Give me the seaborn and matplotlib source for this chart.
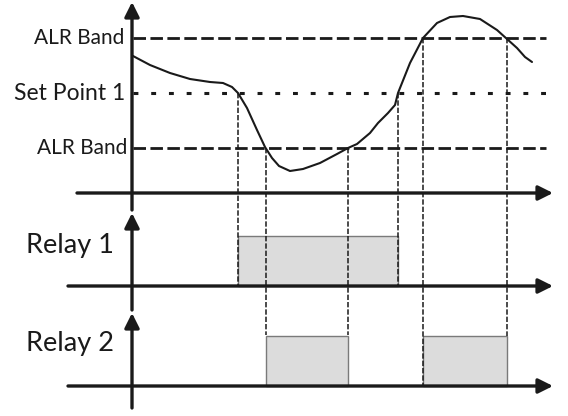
import numpy as np
import pandas as pd
import seaborn as sns
import matplotlib.pyplot as plt

# process value (x = time, y = level; screen units, y grows downward)
curve_t = [133, 150, 170, 190, 210, 223, 232, 238, 247, 257, 265, 272, 279, 290, 303, 320, 337, 348,
           357, 370, 378, 388, 395, 398, 402, 410, 423, 437, 450, 463, 480, 497, 507, 517, 525, 532]
curve_v = [56, 65, 73, 79, 82, 83, 87, 93, 108, 130, 147, 158, 166, 171, 169, 163, 154, 148,
           144, 133, 123, 113, 105, 93, 83, 63, 38, 23, 17, 16, 19, 30, 39, 48, 57, 62]

# thresholds
level_names = ["ALR Band", "Set Point 1", "ALR Band"]
level_values = [38, 93, 148]

# switching instants and the level they come from
switch_t = [238, 266, 348, 398, 423, 507]
switch_from = [93, 148, 148, 93, 38, 38]
switch_to = [286, 335, 335, 286, 386, 336]

# relay on-intervals
relay1_on = [(238, 398)]
relay2_on = [(266, 348), (423, 507)]

# axis rows
row_names = ["Relay 1", "Relay 2"]
base_main, base_r1, base_r2 = 193, 286, 386
top_r1, top_r2 = 236, 336
t_axis = 132

sns.set_theme(style="white")
plt.rcParams["font.family"] = ["Lato", "DejaVu Sans"]

fig = plt.figure(figsize=(5.68, 4.16), dpi=100)
ax = fig.add_axes([0, 0, 1, 1])

ink = "#1a1a1a"

# relay bars
for a, b in relay1_on:
    ax.bar(a, top_r1 - base_r1, width=b - a, bottom=base_r1, align="edge",
           color="#dcdcdc", edgecolor="#7a7a7a", linewidth=1, zorder=1)
for a, b in relay2_on:
    ax.bar(a, top_r2 - base_r2, width=b - a, bottom=base_r2, align="edge",
           color="#dcdcdc", edgecolor="#7a7a7a", linewidth=1, zorder=1)

# threshold lines
for name, v in zip(level_names, level_values):
    if name.startswith("Set"):
        ax.plot([133, 547], [v, v], color=ink, lw=2.2, dashes=(1.6, 4.2), zorder=2)
    else:
        ax.plot([133, 546], [v, v], color=ink, lw=2.0, dashes=(4.5, 1.6), zorder=2)

# projection lines
for t, a, b in zip(switch_t, switch_from, switch_to):
    ax.plot([t, t], [a, b], color=ink, lw=1.1, dashes=(3.5, 1.3), zorder=3)

# process curve
df = pd.DataFrame({"t": curve_t, "v": curve_v})
sns.lineplot(data=df, x="t", y="v", sort=False, color=ink, lw=1.5, ax=ax, zorder=4,
             solid_joinstyle="round", solid_capstyle="round")

ax.set_xlim(0, 568)
ax.set_ylim(416, 0)
ax.axis("off")

# axes with arrowheads
arrow = dict(arrowstyle="-|>", lw=2.4, color=ink, mutation_scale=22, shrinkA=0, shrinkB=0)
for x0, y in [(77, base_main), (68, base_r1), (68, base_r2)]:
    ax.annotate("", xy=(553, y), xytext=(x0, y), arrowprops=arrow, zorder=5)
for y0, y1 in [(210, 2), (310, 213), (408, 313)]:
    ax.annotate("", xy=(t_axis, y1), xytext=(t_axis, y0), arrowprops=arrow, zorder=5)

# labels
ax.text(124, level_values[0], level_names[0], ha="right", va="center", fontsize=15, color=ink)
ax.text(125, level_values[1], level_names[1], ha="right", va="center", fontsize=16.5, color=ink)
ax.text(127, level_values[2], level_names[2], ha="right", va="center", fontsize=15, color=ink)
ax.text(26, 246, row_names[0], ha="left", va="center", fontsize=19.5, color=ink)
ax.text(26, 344, row_names[1], ha="left", va="center", fontsize=19.5, color=ink)

fig.savefig("out.png", dpi=100)
